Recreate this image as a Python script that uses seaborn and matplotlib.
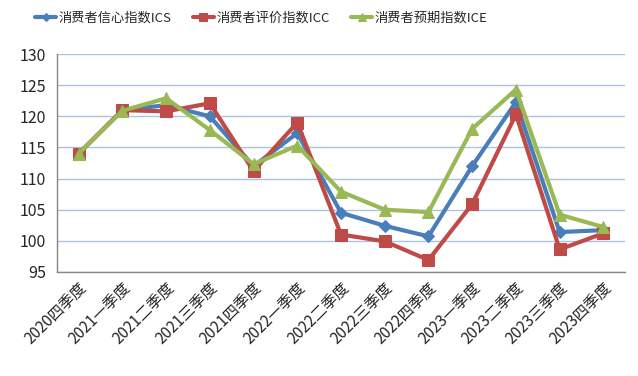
import pandas as pd
import numpy as np
import matplotlib.pyplot as plt
import seaborn as sns
from matplotlib.ticker import FixedLocator

sns.set_style('white')
plt.rcParams['font.family'] = ['Noto Sans CJK SC', 'DejaVu Sans']

# 数据
quarters = ['2020四季度', '2021一季度', '2021二季度', '2021三季度', '2021四季度',
            '2022一季度', '2022二季度', '2022三季度', '2022四季度',
            '2023一季度', '2023二季度', '2023三季度', '2023四季度']
ics = [114.0, 121.0, 121.8, 120.0, 112.0, 117.3, 104.5, 102.4, 100.7, 112.0, 122.3, 101.4, 101.7]
icc = [114.0, 121.0, 120.8, 122.1, 111.2, 119.0, 101.0, 99.9, 96.9, 105.9, 120.3, 98.6, 101.2]
ice = [114.0, 120.9, 122.9, 117.8, 112.3, 115.3, 107.9, 105.0, 104.6, 118.0, 124.3, 104.2, 102.2]
series_names = ['消费者信心指数ICS', '消费者评价指数ICC', '消费者预期指数ICE']

df = pd.DataFrame({
    '季度': quarters * 3,
    'pos': list(range(len(quarters))) * 3,
    '指数': ics + icc + ice,
    '系列': [s for s in series_names for _ in quarters],
})

colors = {series_names[0]: '#4A7EBB', series_names[1]: '#BE4B48', series_names[2]: '#98B954'}
markers = {series_names[0]: 'D', series_names[1]: 's', series_names[2]: '^'}
msizes = {series_names[0]: 6, series_names[1]: 9, series_names[2]: 9}

fig = plt.figure(figsize=(6.38, 3.76), dpi=100)
ax = fig.add_axes([0.089, 0.277, 0.891, 0.579])

for name in series_names:
    sub = df[df['系列'] == name]
    sns.lineplot(data=sub, x='pos', y='指数', ax=ax, color=colors[name],
                 marker=markers[name], markersize=msizes[name], linewidth=3,
                 markeredgecolor=colors[name], label=name, zorder=3)

ax.set_xlim(-0.5, len(quarters) - 0.5)
ax.set_ylim(95, 130)
ax.set_yticks(np.arange(95, 131, 5))
ax.set_xticks(range(len(quarters)))
ax.set_xticklabels(quarters, rotation=45, ha='right', rotation_mode='anchor', fontsize=11)
ax.xaxis.set_minor_locator(FixedLocator(np.arange(-0.5, len(quarters), 1)))
ax.tick_params(axis='x', which='major', length=0, pad=6)
ax.tick_params(axis='x', which='minor', length=5, color='#868686', direction='out')
ax.tick_params(axis='y', length=4, color='#868686', direction='out', labelsize=11.5)
ax.set_xlabel('')
ax.set_ylabel('')

ax.grid(axis='y', color='#A9C4E4', linewidth=1)
ax.set_axisbelow(True)
for side in ['top', 'right']:
    ax.spines[side].set_visible(False)
for side in ['left', 'bottom']:
    ax.spines[side].set_color('#868686')
    ax.spines[side].set_linewidth(1)

leg = ax.legend(loc='center', bbox_to_anchor=(0.36, 1.166), ncol=3, frameon=False,
                fontsize=9.5, handlelength=1.6, columnspacing=1.6, handletextpad=0.2,
                markerscale=0.7)

fig.savefig('out.png', dpi=100)
